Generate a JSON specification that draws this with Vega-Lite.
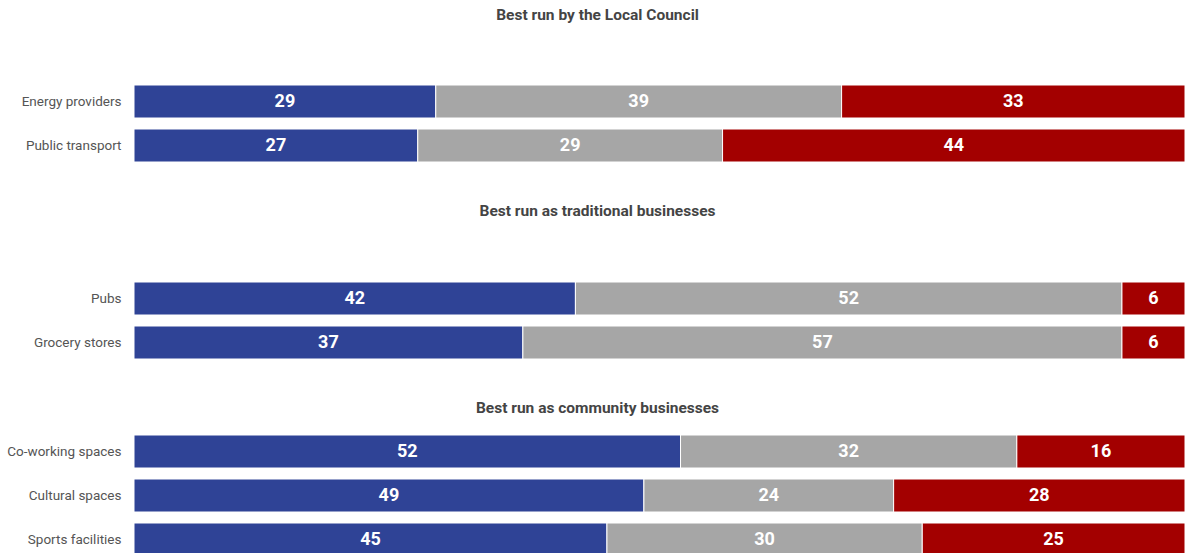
{
  "$schema": "https://vega.github.io/schema/vega-lite/v6.json",
  "padding": {"left": 0, "top": 7, "right": 0, "bottom": 0},
  "spacing": 41,
  "config": {
    "font": "Roboto",
    "view": {"stroke": null},
    "title": {"fontSize": 15.5, "fontWeight": "bold", "color": "#444444", "anchor": "middle", "frame": "group", "dx": -62, "font": "Roboto"},
    "axisY": {"labelFont": "Roboto", "labelFontSize": 13.5, "labelColor": "#555555", "domain": false, "ticks": false, "labelPadding": 13, "minExtent": 134, "maxExtent": 134, "title": null, "grid": false},
    "axisX": {"disable": true}
  },
  "datasets": {
    "council": [
      {"item": "Energy providers", "response": "Yes", "order": 1, "value": 29},
      {"item": "Energy providers", "response": "Unsure", "order": 2, "value": 39},
      {"item": "Energy providers", "response": "No", "order": 3, "value": 33},
      {"item": "Public transport", "response": "Yes", "order": 1, "value": 27},
      {"item": "Public transport", "response": "Unsure", "order": 2, "value": 29},
      {"item": "Public transport", "response": "No", "order": 3, "value": 44}
    ],
    "traditional": [
      {"item": "Pubs", "response": "Yes", "order": 1, "value": 42},
      {"item": "Pubs", "response": "Unsure", "order": 2, "value": 52},
      {"item": "Pubs", "response": "No", "order": 3, "value": 6},
      {"item": "Grocery stores", "response": "Yes", "order": 1, "value": 37},
      {"item": "Grocery stores", "response": "Unsure", "order": 2, "value": 57},
      {"item": "Grocery stores", "response": "No", "order": 3, "value": 6}
    ],
    "community": [
      {"item": "Co-working spaces", "response": "Yes", "order": 1, "value": 52},
      {"item": "Co-working spaces", "response": "Unsure", "order": 2, "value": 32},
      {"item": "Co-working spaces", "response": "No", "order": 3, "value": 16},
      {"item": "Cultural spaces", "response": "Yes", "order": 1, "value": 49},
      {"item": "Cultural spaces", "response": "Unsure", "order": 2, "value": 24},
      {"item": "Cultural spaces", "response": "No", "order": 3, "value": 28},
      {"item": "Sports facilities", "response": "Yes", "order": 1, "value": 45},
      {"item": "Sports facilities", "response": "Unsure", "order": 2, "value": 30},
      {"item": "Sports facilities", "response": "No", "order": 3, "value": 25}
    ]
  },
  "vconcat": [
    {
      "title": {"text": "Best run by the Local Council", "offset": 61.5},
      "data": {"name": "council"},
      "transform": [
        {"stack": "value", "groupby": ["item"], "sort": [{"field": "order"}], "offset": "normalize", "as": ["x0", "x1"]},
        {"calculate": "(datum.x0 + datum.x1) / 2", "as": "xmid"}
      ],
      "width": 1051,
      "height": 77,
      "encoding": {
        "y": {"field": "item", "type": "nominal", "sort": null, "scale": {"paddingInner": 0.25, "paddingOuter": 0}}
      },
      "layer": [
        {"mark": {"type": "bar", "stroke": "#ffffff", "strokeWidth": 1},
         "encoding": {
           "x": {"field": "x0", "type": "quantitative", "scale": {"domain": [0, 1], "nice": false}},
           "x2": {"field": "x1"},
           "color": {"field": "response", "type": "nominal", "legend": null, "scale": {"domain": ["Yes", "Unsure", "No"], "range": ["#2f4396", "#a6a6a6", "#a30000"]}}}},
        {"mark": {"type": "text", "color": "#ffffff", "fontWeight": "bold", "fontSize": 18, "font": "Roboto"},
         "encoding": {
           "x": {"field": "xmid", "type": "quantitative"},
           "text": {"field": "value", "type": "quantitative"}}}
      ]
    },
    {
      "title": {"text": "Best run as traditional businesses", "offset": 62},
      "data": {"name": "traditional"},
      "transform": [
        {"stack": "value", "groupby": ["item"], "sort": [{"field": "order"}], "offset": "normalize", "as": ["x0", "x1"]},
        {"calculate": "(datum.x0 + datum.x1) / 2", "as": "xmid"}
      ],
      "width": 1051,
      "height": 77,
      "encoding": {
        "y": {"field": "item", "type": "nominal", "sort": null, "scale": {"paddingInner": 0.25, "paddingOuter": 0}}
      },
      "layer": [
        {"mark": {"type": "bar", "stroke": "#ffffff", "strokeWidth": 1},
         "encoding": {
           "x": {"field": "x0", "type": "quantitative", "scale": {"domain": [0, 1], "nice": false}},
           "x2": {"field": "x1"},
           "color": {"field": "response", "type": "nominal", "legend": null, "scale": {"domain": ["Yes", "Unsure", "No"], "range": ["#2f4396", "#a6a6a6", "#a30000"]}}}},
        {"mark": {"type": "text", "color": "#ffffff", "fontWeight": "bold", "fontSize": 18, "font": "Roboto"},
         "encoding": {
           "x": {"field": "xmid", "type": "quantitative"},
           "text": {"field": "value", "type": "quantitative"}}}
      ]
    },
    {
      "title": {"text": "Best run as community businesses", "offset": 18},
      "data": {"name": "community"},
      "transform": [
        {"stack": "value", "groupby": ["item"], "sort": [{"field": "order"}], "offset": "normalize", "as": ["x0", "x1"]},
        {"calculate": "(datum.x0 + datum.x1) / 2", "as": "xmid"}
      ],
      "width": 1051,
      "height": 121,
      "encoding": {
        "y": {"field": "item", "type": "nominal", "sort": null, "scale": {"paddingInner": 0.25, "paddingOuter": 0}}
      },
      "layer": [
        {"mark": {"type": "bar", "stroke": "#ffffff", "strokeWidth": 1},
         "encoding": {
           "x": {"field": "x0", "type": "quantitative", "scale": {"domain": [0, 1], "nice": false}},
           "x2": {"field": "x1"},
           "color": {"field": "response", "type": "nominal", "legend": null, "scale": {"domain": ["Yes", "Unsure", "No"], "range": ["#2f4396", "#a6a6a6", "#a30000"]}}}},
        {"mark": {"type": "text", "color": "#ffffff", "fontWeight": "bold", "fontSize": 18, "font": "Roboto"},
         "encoding": {
           "x": {"field": "xmid", "type": "quantitative"},
           "text": {"field": "value", "type": "quantitative"}}}
      ]
    }
  ]
}
